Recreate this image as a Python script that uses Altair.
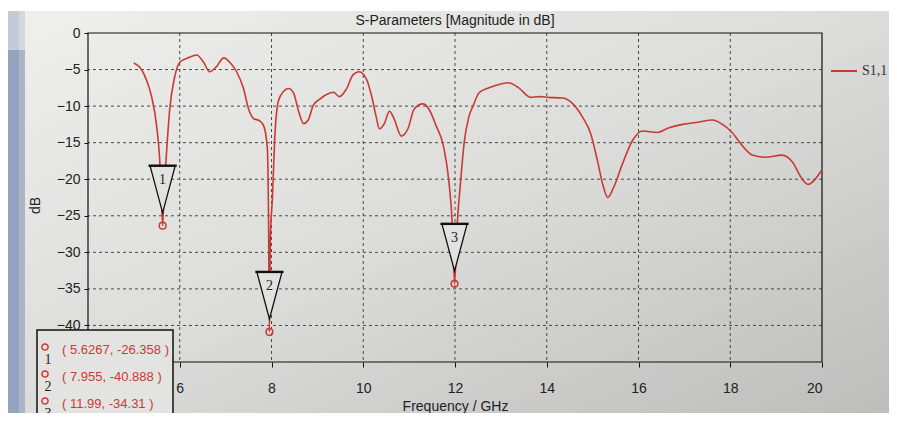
import altair as alt
import pandas as pd

# ---------------- data ----------------
freq = [5.00, 5.13, 5.28, 5.39, 5.50, 5.56, 5.60, 5.6267, 5.655, 5.70, 5.78, 5.89,
        6.00, 6.15, 6.37, 6.52, 6.65, 6.80, 6.96, 7.09, 7.24, 7.39, 7.50, 7.61,
        7.74, 7.83, 7.91, 7.935, 7.955, 7.975, 8.02, 8.07, 8.15, 8.26, 8.37, 8.48,
        8.59, 8.70, 8.80, 8.91, 9.04, 9.20, 9.35, 9.48, 9.63, 9.78, 9.91, 10.07,
        10.17, 10.28, 10.35, 10.46, 10.57, 10.67, 10.83, 10.98, 11.11, 11.30, 11.43,
        11.59, 11.75, 11.87, 11.94, 11.99, 12.05, 12.12, 12.20, 12.30, 12.40, 12.52,
        12.74, 13.04, 13.17, 13.39, 13.65, 13.83, 14.04, 14.35, 14.57, 14.78, 14.96,
        15.11, 15.22, 15.33, 15.46, 15.65, 15.87, 16.09, 16.41, 16.65, 16.96, 17.30,
        17.61, 17.83, 18.04, 18.26, 18.48, 18.76, 19.13, 19.35, 19.57, 19.70, 19.85,
        20.00]
s11 = [-4.1, -4.7, -6.5, -8.8, -12.9, -17.0, -22.0, -26.358, -22.0, -17.5, -10.5, -6.0,
       -4.0, -3.5, -3.0, -4.0, -5.3, -4.6, -3.4, -4.0, -5.3, -7.6, -10.4, -11.7,
       -12.0, -12.7, -15.8, -25.0, -40.888, -28.0, -22.6, -14.5, -9.3, -8.0, -7.6, -8.2,
       -10.7, -12.4, -11.9, -9.9, -9.1, -8.4, -8.1, -8.7, -7.7, -5.7, -5.3, -6.3,
       -8.3, -11.4, -13.1, -12.4, -10.7, -11.7, -14.1, -13.0, -10.4, -9.7, -10.4,
       -12.7, -15.5, -20.5, -26.1, -34.31, -26.1, -20.5, -15.0, -11.5, -9.9, -8.2,
       -7.5, -6.9, -6.8, -7.5, -8.8, -8.7, -8.8, -8.9, -9.7, -11.5, -13.8,
       -17.6, -20.7, -22.5, -21.1, -17.9, -14.7, -13.4, -13.6, -13.0, -12.5, -12.2,
       -11.9, -12.5, -13.6, -15.4, -16.7, -17.0, -16.7, -17.6, -20.0, -20.7, -20.0,
       -18.7]

marker_id = ["1", "2", "3"]
marker_f = [5.6267, 7.955, 11.99]
marker_db = [-26.358, -40.888, -34.31]

x_ticks = [6, 8, 10, 12, 14, 16, 18, 20]
x_grid = [6, 8, 10, 12, 14, 16, 18]
y_ticks = [0, -5, -10, -15, -20, -25, -30, -35, -40]
y_grid = [-5, -10, -15, -20, -25, -30, -35, -40]

title_text = "S-Parameters [Magnitude in dB]"
x_title = "Frequency / GHz"
y_title = "dB"
series_name = "S1,1"

# ---------------- styling ----------------
W, H = 734, 329
PL, PT, PR, PB = 80, 25, 67, 51
RED = "#c93a36"
SANS = "Liberation Sans, Arial, sans-serif"
SERIF = "Liberation Serif, DejaVu Serif, serif"
INK = "#222222"

curve = pd.DataFrame({"f": freq, "db": s11, "series": series_name})
markers = pd.DataFrame({
    "f": marker_f, "db": marker_db, "id": marker_id,
    "label": [f"( {a}, {b} )" for a, b in zip(marker_f, marker_db)],
})

xs = alt.Scale(domain=[4, 20], nice=False, zero=False)
ys = alt.Scale(domain=[-45, 0], nice=False, zero=False)

xaxis = alt.Axis(values=x_ticks, grid=False, domain=False, tickSize=5, tickColor="#111",
                 labelPadding=14, labelFont=SANS, labelFontSize=14, labelColor=INK,
                 titleFont=SANS, titleFontSize=14, titleFontWeight="normal",
                 titleColor=INK, titleY=51, titleBaseline="bottom", zindex=1)
yaxis = alt.Axis(values=y_ticks, grid=False, domain=False, tickSize=4, tickColor="#111",
                 labelPadding=4, labelFont=SANS, labelFontSize=14, labelColor=INK,
                 titleFont=SANS, titleFontSize=14, titleFontWeight="normal",
                 titleColor=INK, titleX=-53, titleY=172, titleAlign="center",
                 titleBaseline="middle", titleAngle=270, zindex=1)

X = alt.X("f:Q", scale=xs, axis=xaxis, title=x_title)
Y = alt.Y("db:Q", scale=ys, axis=yaxis, title=y_title)

one = alt.Data(values=[{}])


def box(x0, x1, y0, y1, **kw):
    return alt.Chart(one).mark_rect(**kw).encode(
        x=alt.value(x0), x2=alt.value(x1), y=alt.value(y0), y2=alt.value(y1))


grad = alt.Gradient(
    gradient="linear", x1=0, y1=0, x2=1, y2=1,
    stops=[alt.GradientStop(color="#efefec", offset=0),
           alt.GradientStop(color="#dcdcda", offset=0.5),
           alt.GradientStop(color="#bdbdbb", offset=1)])

background = box(-PL, W + PR, -22, H + PB, fill=grad)
strip1 = box(-PL, -69, -22, 17, fill="#c3cbd7")
strip2 = box(-PL, -69, 17, H + PB, fill="#94a4be")
strip3 = box(-69, -63, -22, 17, fill="#d2d8e0")
strip4 = box(-69, -63, 17, H + PB, fill="#aab6c8")

title_mark = alt.Chart(alt.Data(values=[{"t": title_text}])).mark_text(
    font=SANS, fontSize=14, color=INK, baseline="bottom", align="center").encode(
    x=alt.value(W / 2), y=alt.value(-5), text="t:N")

vgrid = alt.Chart(pd.DataFrame({"f": x_grid})).mark_rule(
    color="#4a4a4a", strokeDash=[3, 3], strokeWidth=1).encode(x=X)
hgrid = alt.Chart(pd.DataFrame({"db": y_grid})).mark_rule(
    color="#4a4a4a", strokeDash=[3, 3], strokeWidth=1).encode(y=Y)

frame = box(0, W, 0, H, fillOpacity=0, stroke="#111", strokeWidth=1.2)

line = alt.Chart(curve).mark_line(strokeWidth=1.6, interpolate="monotone").encode(
    x=X, y=Y,
    color=alt.Color("series:N", scale=alt.Scale(domain=[series_name], range=[RED]),
                    legend=alt.Legend(orient="none", legendX=742, legendY=24, title=None,
                                      symbolType="stroke", symbolSize=676,
                                      symbolStrokeWidth=2, labelFont=SERIF,
                                      labelFontSize=14, labelColor="#333",
                                      labelOffset=4, padding=0)))

base_m = alt.Chart(markers).encode(x=X, y=Y)
tri = base_m.mark_point(shape="M -0.42 -2 L 0.42 -2 L 0 -0.43 Z", size=3600, filled=True,
                        fill="#e2e2e0", stroke="#111", strokeWidth=1.3, opacity=1)
tri_bar = base_m.mark_point(shape="M -0.47 -2 L 0.47 -2", size=3600, filled=False,
                            stroke="#111", strokeWidth=2.4, opacity=1)
tri_num = base_m.mark_text(dy=-46, font=SERIF, fontSize=14, color=INK).encode(text="id:N")
circ = base_m.mark_point(shape="circle", size=45, filled=False, color=RED,
                         strokeWidth=1.5, opacity=1)

mbox = box(-51, 85, 297, H + PB + 5, fill="#e3e3e1", stroke="#111", strokeWidth=1.5)

rows = []
for i, mid in enumerate(marker_id):
    b = alt.Chart(markers).transform_filter(alt.datum.id == mid)
    rows.append(b.mark_point(shape="circle", size=38, filled=False, color=RED,
                             strokeWidth=1.5, opacity=1).encode(
        x=alt.value(-43), y=alt.value(314 + 27 * i)))
    rows.append(b.mark_text(font=SERIF, fontSize=14, color=INK, baseline="middle").encode(
        x=alt.value(-40), y=alt.value(327 + 27 * i), text="id:N"))
    rows.append(b.mark_text(font=SANS, fontSize=13, color=RED, align="left",
                            baseline="middle").encode(
        x=alt.value(-26), y=alt.value(317 + 27 * i), text="label:N"))

chart = alt.layer(
    background, strip1, strip2, strip3, strip4, title_mark,
    vgrid, hgrid, frame, line, tri, tri_bar, tri_num, circ, mbox, *rows
).properties(
    width=W, height=H,
    autosize=alt.AutoSizeParams(type="none"),
    padding={"left": PL, "top": PT, "right": PR, "bottom": PB},
).configure(background="white").configure_view(strokeWidth=0)

chart.save("out.html", embed_options={"renderer": "svg", "actions": False})
